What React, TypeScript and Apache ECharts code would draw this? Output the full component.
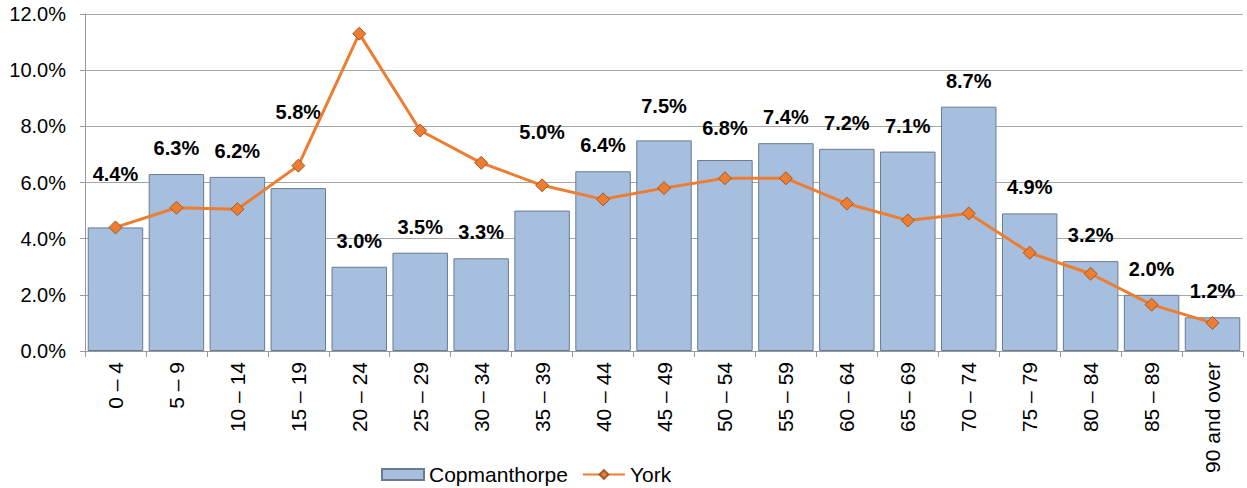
import React, { useEffect, useRef } from "react";
import * as echarts from "echarts";

const categories = ["0 – 4", "5 – 9", "10 – 14", "15 – 19", "20 – 24", "25 – 29", "30 – 34", "35 – 39", "40 – 44", "45 – 49", "50 – 54", "55 – 59", "60 – 64", "65 – 69", "70 – 74", "75 – 79", "80 – 84", "85 – 89", "90 and over"];
const copmanthorpe = [4.4, 6.3, 6.2, 5.8, 3.0, 3.5, 3.3, 5.0, 6.4, 7.5, 6.8, 7.4, 7.2, 7.1, 8.7, 4.9, 3.2, 2.0, 1.2];
const york = [4.4, 5.1, 5.05, 6.6, 11.3, 7.85, 6.7, 5.9, 5.4, 5.8, 6.15, 6.15, 5.25, 4.65, 4.9, 3.5, 2.75, 1.65, 1.0];
const labelLift = [27, 0, 0, 50, 0, 0, 0, 53, 0, 8, 6, 0, 0, 0, 0, 0, 0, 0, 0];

export default function App() {
  const ref = useRef<HTMLDivElement>(null);
  useEffect(() => {
    const chart = echarts.init(ref.current!, null, { renderer: "svg" });
    const font = "Liberation Sans, Arial, sans-serif";
    chart.setOption({
      animation: false,
      textStyle: { fontFamily: font },
      grid: { left: 85, right: 4, top: 14, bottom: 137, containLabel: false },
      legend: {
        bottom: -2,
        left: 376,
        itemWidth: 42,
        itemHeight: 11,
        itemGap: 14,
        textStyle: { fontSize: 21, color: "#000", fontFamily: font },
        data: [
          { name: "Copmanthorpe", icon: "rect" },
          { name: "York" },
        ],
      },
      xAxis: {
        type: "category",
        data: categories,
        boundaryGap: true,
        axisLine: { lineStyle: { color: "#999", width: 1 } },
        axisTick: { show: true, alignWithLabel: false, length: 6, lineStyle: { color: "#999" } },
        axisLabel: { rotate: 90, fontSize: 21, color: "#000", margin: 11, interval: 0, fontFamily: font },
      },
      yAxis: {
        type: "value",
        min: 0,
        max: 12,
        interval: 2,
        axisLine: { show: true, lineStyle: { color: "#999" } },
        axisTick: { show: true, length: 5, lineStyle: { color: "#999" } },
        splitLine: { lineStyle: { color: "#a6a6a6", width: 1 } },
        axisLabel: { fontSize: 20, color: "#000", margin: 19, formatter: (v: number) => v.toFixed(1) + "%", fontFamily: font },
      },
      series: [
        {
          name: "Copmanthorpe",
          type: "bar",
          barCategoryGap: "9%",
          data: copmanthorpe.map((v, i) => ({
            value: v,
            label: { offset: [0, -labelLift[i]] },
          })),
          itemStyle: { color: "#a7bfde", borderColor: "#6a7a90", borderWidth: 1 },
          label: {
            show: true,
            position: "top",
            distance: 16,
            fontSize: 20,
            fontWeight: "bold",
            color: "#000",
            fontFamily: font,
            formatter: (p: any) => p.value.toFixed(1) + "%",
          },
          z: 2,
        },
        {
          name: "York",
          type: "line",
          data: york,
          symbol: "diamond",
          symbolSize: 13,
          lineStyle: { color: "#ed7d31", width: 3 },
          itemStyle: { color: "#ed7d31", borderColor: "#9c5a2a", borderWidth: 1 },
          z: 3,
        },
      ],
    });
    return () => chart.dispose();
  }, []);
  return <div ref={ref} style={{ position: "fixed", left: 0, top: 0, width: 1247, height: 488, background: "#fff" }} />;
}
